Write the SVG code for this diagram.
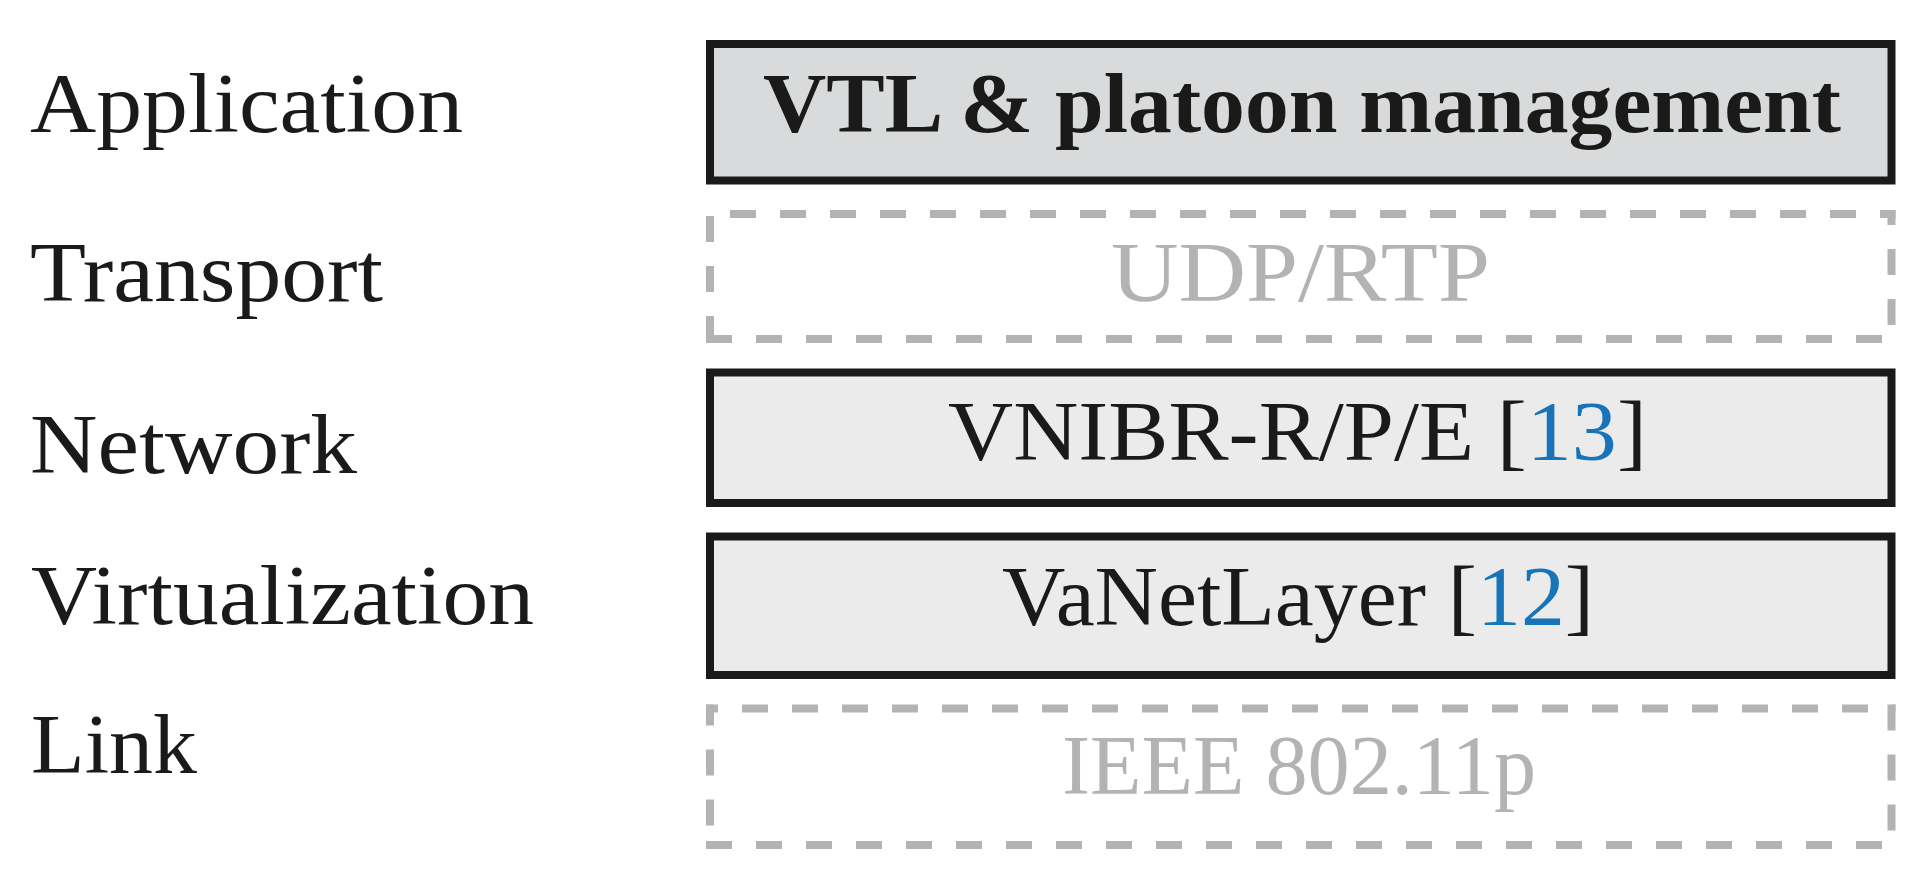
<svg xmlns="http://www.w3.org/2000/svg" width="1929" height="893" viewBox="0 0 1929 893">
  <style>
    .lbl { font-family: "Liberation Serif", "Times New Roman", serif; font-size: 84px; fill: #1a1a18; }
    .bold { font-weight: bold; }
    .muted { fill: #b3b3b3; }
    .ref { fill: #1874b8; }
    .solid { stroke: #1a1a18; stroke-width: 8; }
    .dash { stroke: #b3b3b3; stroke-width: 8; fill: none; stroke-dasharray: 26 24; }
  </style>
  <rect x="0" y="0" width="1929" height="893" fill="#ffffff"/>

  <g id="layer-labels">
    <text class="lbl" x="30" y="131.7" textLength="433" lengthAdjust="spacingAndGlyphs">Application</text>
    <text class="lbl" x="30" y="300.5" textLength="353" lengthAdjust="spacingAndGlyphs">Transport</text>
    <text class="lbl" x="30" y="473" textLength="327" lengthAdjust="spacingAndGlyphs">Network</text>
    <text class="lbl" x="31" y="624" textLength="503" lengthAdjust="spacingAndGlyphs">Virtualization</text>
    <text class="lbl" x="31" y="773" textLength="166" lengthAdjust="spacingAndGlyphs">Link</text>
  </g>

  <g id="application">
    <rect class="solid" x="710" y="44" width="1181.5" height="136.5" fill="#d9dadb"/>
    <text class="lbl bold" x="763" y="131.7" textLength="1078" lengthAdjust="spacingAndGlyphs">VTL &amp; platoon management</text>
  </g>

  <g id="transport">
    <line class="dash" x1="706" y1="214" x2="1895.5" y2="214" stroke-dashoffset="26"/>
    <line class="dash" x1="1891.5" y1="210" x2="1891.5" y2="343" stroke-dashoffset="11"/>
    <line class="dash" x1="706" y1="339" x2="1895.5" y2="339" stroke-dashoffset="0"/>
    <line class="dash" x1="710" y1="214" x2="710" y2="343" stroke-dashoffset="48"/>
    <text class="lbl muted" x="1111" y="301" textLength="379" lengthAdjust="spacingAndGlyphs">UDP/RTP</text>
  </g>

  <g id="network">
    <rect class="solid" x="710" y="372.5" width="1181.5" height="130.5" fill="#ebebeb"/>
    <text class="lbl" x="948" y="460" textLength="699" lengthAdjust="spacingAndGlyphs">VNIBR-R/P/E [<tspan class="ref">13</tspan>]</text>
  </g>

  <g id="virtualization">
    <rect class="solid" x="710" y="536.5" width="1181.5" height="138.5" fill="#ebebeb"/>
    <text class="lbl" x="1002" y="624.5" textLength="592" lengthAdjust="spacingAndGlyphs">VaNetLayer [<tspan class="ref">12</tspan>]</text>
  </g>

  <g id="link">
    <line class="dash" x1="706" y1="708.5" x2="1895.5" y2="708.5" stroke-dashoffset="14"/>
    <line class="dash" x1="1891.5" y1="704.5" x2="1891.5" y2="849" stroke-dashoffset="0"/>
    <line class="dash" x1="706" y1="845" x2="1895.5" y2="845" stroke-dashoffset="0"/>
    <line class="dash" x1="710" y1="704.5" x2="710" y2="849" stroke-dashoffset="5"/>
    <text class="lbl muted" x="1062" y="794" textLength="474" lengthAdjust="spacingAndGlyphs">IEEE 802.11p</text>
  </g>

  <g id="connectors"/>
</svg>
